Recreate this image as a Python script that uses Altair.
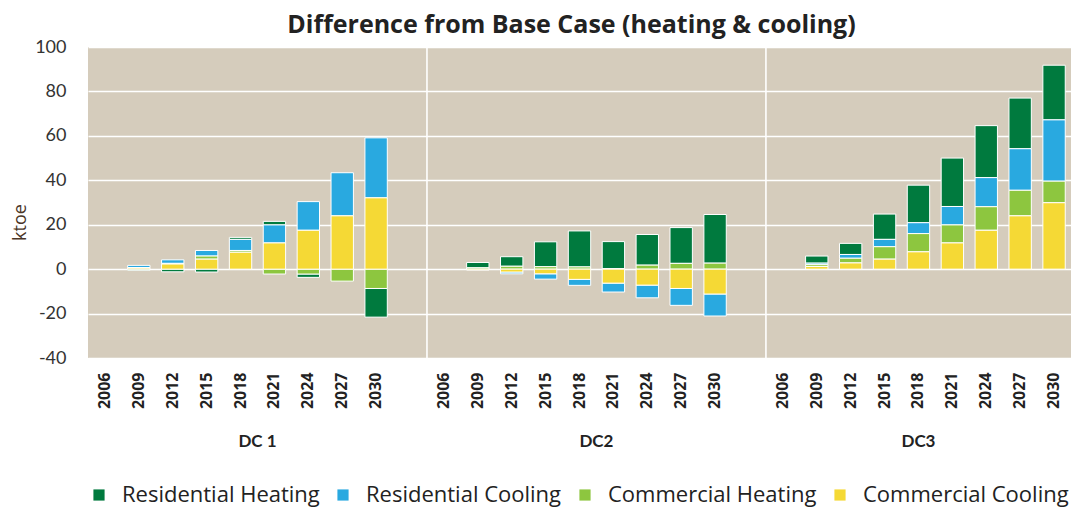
import altair as alt
import pandas as pd

years = [2006, 2009, 2012, 2015, 2018, 2021, 2024, 2027, 2030]
groups = ["DC1", "DC2", "DC3"]
group_labels = ["DC 1", "DC2", "DC3"]
series = ["Residential Heating", "Residential Cooling", "Commercial Heating", "Commercial Cooling"]
colors = ["#007A3E", "#29A9E0", "#8DC63F", "#F5D935"]
stack_order = [3, 2, 1, 0]

dc1_res_heat = [0, -0.5, -1.2, -1.3, 0.9, 1.6, -1.5, 0, -12.9]
dc1_res_cool = [0, 1.0, 1.6, 2.5, 5.0, 8.1, 12.9, 19.4, 27.0]
dc1_com_heat = [0, 0.2, 0.3, 1.4, 0.8, -2.2, -2.2, -5.4, -8.7]
dc1_com_cool = [0, 0.5, 2.3, 4.5, 7.6, 11.8, 17.5, 24.0, 32.1]

dc2_res_heat = [0, 2.4, 4.3, 11.2, 16.2, 12.2, 13.8, 16.1, 21.9]
dc2_res_cool = [0, 0, -0.8, -2.4, -2.7, -4.0, -5.7, -7.6, -9.9]
dc2_com_heat = [0, 0.6, 1.3, 1.1, 1.0, 0.2, 1.8, 2.6, 2.7]
dc2_com_cool = [0, -0.4, -1.3, -2.1, -4.6, -6.3, -7.2, -8.7, -11.2]

dc3_res_heat = [0, 3.2, 5.0, 11.4, 16.9, 21.8, 23.4, 22.8, 24.6]
dc3_res_cool = [0, 0.7, 1.7, 3.3, 4.9, 8.3, 13.1, 18.7, 27.6]
dc3_com_heat = [0, 0.8, 2.1, 5.6, 8.2, 8.1, 10.6, 11.5, 9.7]
dc3_com_cool = [0, 1.2, 2.8, 4.5, 7.8, 11.8, 17.5, 24.0, 29.9]

y_ticks = [-40, -20, 0, 20, 40, 60, 80, 100]

data = {
    "DC1": [dc1_res_heat, dc1_res_cool, dc1_com_heat, dc1_com_cool],
    "DC2": [dc2_res_heat, dc2_res_cool, dc2_com_heat, dc2_com_cool],
    "DC3": [dc3_res_heat, dc3_res_cool, dc3_com_heat, dc3_com_cool],
}

rows = []
for g in groups:
    for s, vals, o in zip(series, data[g], stack_order):
        for y, v in zip(years, vals):
            if v != 0:
                rows.append({"key": f"{g}|{y}", "series": s, "value": v, "order": o})
df = pd.DataFrame(rows)

domain = []
for i, g in enumerate(groups):
    domain += [f"{g}|{y}" for y in years]
    if i < len(groups) - 1:
        domain.append(f"{g}|")

xscale = alt.Scale(domain=domain, paddingInner=0, paddingOuter=0)
W, H = 983, 311

bars = alt.Chart(df).mark_bar(
    width=alt.RelativeBandSize(0.66), stroke="white", strokeWidth=1
).encode(
    x=alt.X("key:N", scale=xscale, sort=domain, title=None,
            axis=alt.Axis(labelExpr="split(datum.value, '|')[1]", labelAngle=270,
                          labelFont="Open Sans", labelFontSize=16, labelFontWeight="bold",
                          labelColor="#222222", labelPadding=14, ticks=False,
                          domain=False, grid=False)),
    y=alt.Y("value:Q", stack="zero",
            scale=alt.Scale(domain=[-40, 100], nice=False),
            axis=alt.Axis(values=y_ticks, labelExpr="'' + datum.value",
                          title="ktoe", titleFont="Open Sans",
                          titleFontSize=18, titleFontWeight="normal", titleColor="#4a3526",
                          titleX=-59, titleY=175, titleAngle=270,
                          labelFont="Lato", labelFontSize=18, labelColor="#333333",
                          labelPadding=22, ticks=False, domain=False,
                          grid=True, gridColor="white", gridWidth=1.6)),
    color=alt.Color("series:N", scale=alt.Scale(domain=series, range=colors),
                    legend=alt.Legend(title=None, orient="none", direction="horizontal",
                                      legendX=0, legendY=437, symbolType="square",
                                      symbolSize=125, symbolStrokeWidth=0,
                                      labelFont="Open Sans", labelFontSize=22, labelLimit=400,
                                      labelColor="#222222", labelOffset=12,
                                      columnPadding=12)),
    order=alt.Order("order:Q"),
)

sep_df = pd.DataFrame({"key": [f"{g}|" for g in groups[:-1]]})
seps = alt.Chart(sep_df).mark_rule(color="white", strokeWidth=1.6).encode(
    x=alt.X("key:N", scale=xscale, bandPosition=1),
    y=alt.value(0), y2=alt.value(H),
)

lab_df = pd.DataFrame({"key": ["DC1|2018", "DC2|2018"], "label": group_labels[:2]})
lab3_df = pd.DataFrame({"key": ["DC3|2018"], "label": group_labels[2:]})
labs = alt.Chart(lab_df).mark_text(font="Lato", fontSize=17, fontWeight="bold",
                                   color="#222222", baseline="middle").encode(
    x=alt.X("key:N", scale=xscale, bandPosition=1), y=alt.value(395), text="label:N")
labs3 = alt.Chart(lab3_df).mark_text(font="Lato", fontSize=17, fontWeight="bold",
                                     color="#222222", baseline="middle").encode(
    x=alt.X("key:N", scale=xscale, bandPosition=0.5), y=alt.value(395), text="label:N")

chart = alt.layer(seps, bars, labs, labs3).properties(
    width=W, height=H,
    title=alt.TitleParams("Difference from Base Case (heating & cooling)",
                          font="Open Sans", fontSize=25, fontWeight="bold",
                          color="#222222", anchor="middle", offset=0, dx=-8),
    autosize=alt.AutoSizeParams(type="none"),
    padding={"left": 80, "top": 39, "right": 3, "bottom": 151},
).configure_view(fill="#D5CCBC", stroke=None)

chart.save("out.html", embed_options={"renderer": "svg", "actions": False})
